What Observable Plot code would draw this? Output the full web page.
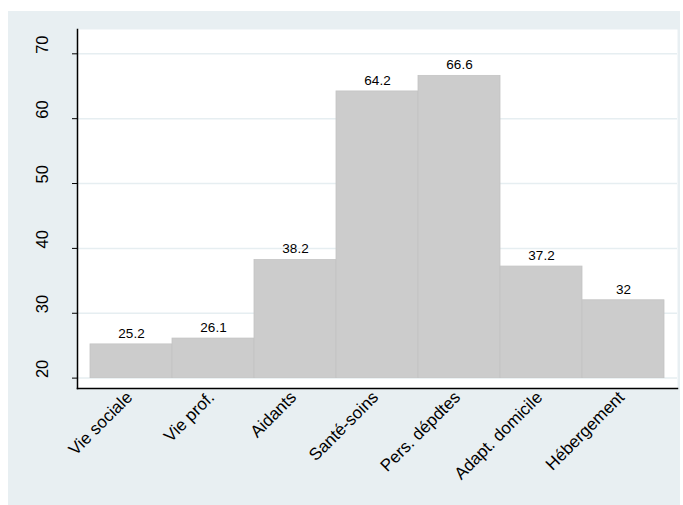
<!DOCTYPE html>
<html><head><meta charset="utf-8">
<script src="https://cdn.jsdelivr.net/npm/d3@7"></script>
<script src="https://cdn.jsdelivr.net/npm/@observablehq/plot@0.6"></script>
<style>
body{margin:0;background:#fff;width:683px;height:505px;overflow:hidden;position:relative;font-family:"Liberation Sans",Arial,sans-serif;color:#000}
#panel{position:absolute;left:8px;top:11px;width:672px;height:494px;background:#e8eff2}
#panel svg{display:block}
</style></head><body><div id="panel"></div>
<script>
const categories = ["Vie sociale","Vie prof.","Aidants","Santé-soins","Pers. dépdtes","Adapt. domicile","Hébergement"];
const values = [25.2, 26.1, 38.2, 64.2, 66.6, 37.2, 32];
const valueLabels = ["25.2","26.1","38.2","64.2","66.6","37.2","32"];
const yTicks = [20, 30, 40, 50, 60, 70];
const baseline = 20;

const data = categories.map((c, i) => ({cat: c, value: values[i], label: valueLabels[i]}));

const chart = Plot.plot({
  width: 672, height: 494,
  marginLeft: 69, marginRight: 3, marginTop: 18, marginBottom: 117,
  style: {background: "transparent", fontFamily: "Liberation Sans, Arial, sans-serif", color: "#000"},
  x: {domain: categories, padding: 0, insetLeft: 9.7, insetRight: 10, axis: null},
  y: {domain: [18.4, 73.75], axis: null},
  marks: [
    Plot.frame({fill: "white", stroke: null}),
    Plot.ruleY(yTicks, {stroke: "#e6eef1", strokeWidth: 1.5}),
    Plot.barY(data, {x: "cat", y1: baseline, y2: "value", fill: "#cccccc", stroke: "#c4c4c4", strokeWidth: 0.8}),
    Plot.text(data, {x: "cat", y: "value", text: "label", dy: -11, fontSize: 13.5, fill: "#000"}),
    Plot.axisY(yTicks, {tickSize: 5, tickFormat: () => "", stroke: "#000", label: null}),
    Plot.text(yTicks, {y: d => d, frameAnchor: "left", dx: -35, rotate: -90, text: d => String(d), fontSize: 16.5, fill: "#000"}),
    Plot.axisX({tickSize: 0, tickRotate: -45, tickPadding: 6, fontSize: 17, fill: "#000", label: null, dx: -2}),
    Plot.frame({anchor: "left", stroke: "#000", strokeWidth: 1.5}),
    Plot.frame({anchor: "bottom", stroke: "#000", strokeWidth: 1.5})
  ]
});
document.getElementById("panel").appendChild(chart);
</script>
</body></html>
